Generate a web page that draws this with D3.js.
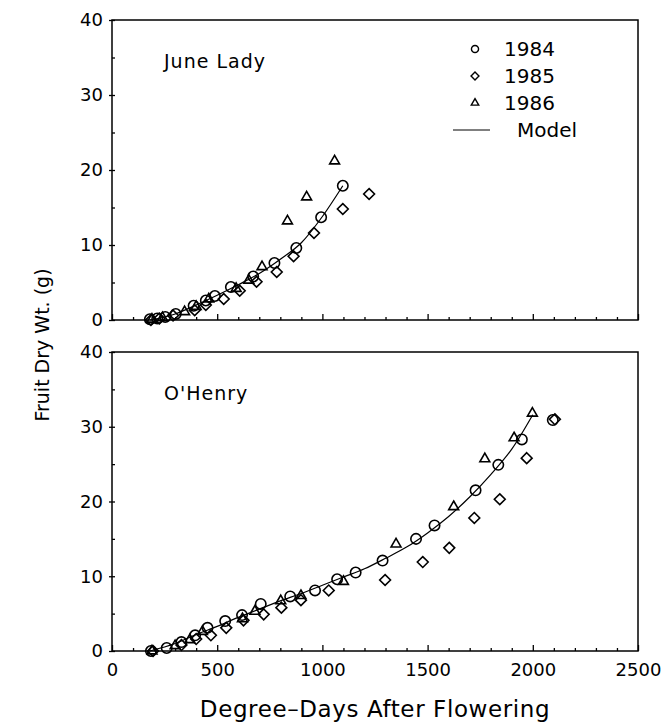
<!DOCTYPE html>
<html>
<head>
<meta charset="utf-8">
<script src="https://cdn.jsdelivr.net/npm/d3@7"></script>
<style>
  body { margin: 0; background: #fff; }
  text { font-family: "DejaVu Sans", sans-serif; fill: #000; }
</style>
</head>
<body>
<script>
// ticks
let xTicks = [0, 500, 1000, 1500, 2000, 2500];
let yTicks = [0, 10, 20, 30, 40];

// June Lady — [degree-days, dry wt g]
let jl1984 = [[180,0.1],[215,0.2],[253,0.4],[303,0.8],[388,1.9],[446,2.6],[489,3.2],[565,4.4],[671,5.8],[772,7.6],[876,9.6],[994,13.7],[1097,17.9]];
let jl1985 = [[185,0],[225,0.2],[290,0.6],[393,1.3],[446,2.0],[531,2.8],[607,3.9],[687,5.1],[783,6.4],[863,8.5],[960,11.6],[1097,14.8],[1222,16.8]];
let jl1986 = [[190,0.1],[240,0.3],[345,1.1],[400,1.8],[460,2.8],[590,4.2],[650,5.3],[713,7.1],[834,13.2],[925,16.4],[1058,21.2]];
let jlModel = [[180,0],[300,0.8],[400,2.0],[500,3.3],[600,4.7],[700,6.2],[800,8.1],[900,10.3],[1000,13.8],[1097,17.9]];

// O'Henry
let oh1984 = [[185,0],[260,0.4],[330,1.2],[395,2.1],[454,3.1],[538,4.0],[618,4.8],[707,6.3],[847,7.3],[965,8.1],[1070,9.6],[1158,10.5],[1286,12.1],[1445,15.0],[1533,16.8],[1728,21.5],[1836,24.9],[1948,28.3],[2095,30.9]];
let oh1985 = [[195,0],[330,0.8],[400,1.6],[470,2.1],[543,3.1],[625,4.1],[721,4.9],[805,5.8],[898,6.8],[1030,8.1],[1298,9.5],[1477,11.9],[1603,13.8],[1722,17.8],[1843,20.3],[1971,25.8],[2105,31.0]];
let oh1986 = [[190,0],[300,0.7],[370,1.5],[430,2.6],[620,4.3],[679,5.3],[802,6.7],[898,7.4],[1100,9.3],[1350,14.3],[1624,19.3],[1772,25.7],[1911,28.5],[1998,31.8]];
let ohModel = [[180,0],[300,1.0],[400,2.2],[500,3.3],[600,4.5],[700,5.6],[800,6.7],[900,7.7],[1000,8.8],[1100,9.9],[1200,11.0],[1300,12.4],[1400,13.9],[1500,15.8],[1600,18.0],[1700,20.6],[1800,23.6],[1900,27.0],[2000,31.6]];

let legendYears = ["1984", "1985", "1986"];

let width = 669, height = 722;
let left = 112, right = 638;

let svg = d3.select("body").append("svg")
    .attr("width", width)
    .attr("height", height);

let x = d3.scaleLinear().domain([0, 2500]).range([left, right]);

let symType = { "1984": d3.symbolCircle, "1985": d3.symbolDiamond2, "1986": d3.symbolTriangle2 };
let symSize = { "1984": 85, "1985": 75, "1986": 70 };

function panel(top, bottom, name, series, model, showXLabels) {
    let y = d3.scaleLinear().domain([0, 40]).range([bottom, top]);
    let g = svg.append("g");

    // frame
    g.append("rect")
        .attr("x", left).attr("y", top)
        .attr("width", right - left).attr("height", bottom - top)
        .attr("fill", "none").attr("stroke", "#000").attr("stroke-width", 1.5);

    // x axis, minor every 100 inward
    let xa = d3.axisBottom(x).tickValues(d3.range(0, 2501, 100))
        .tickSize(-4).tickFormat(d => showXLabels && xTicks.includes(d) ? d : "");
    let gx = g.append("g").attr("transform", "translate(0," + bottom + ")").call(xa);
    gx.select(".domain").remove();
    gx.selectAll(".tick line").attr("stroke-width", 1.3)
        .attr("y2", d => d % 500 == 0 ? -6 : -3);
    gx.selectAll("text").attr("font-size", 18).attr("dy", "1.2em");

    // y axis, tick every 5
    let ya = d3.axisLeft(y).tickValues(d3.range(0, 41, 5))
        .tickSize(-4).tickFormat(d => yTicks.includes(d) ? d : "");
    let gy = g.append("g").attr("transform", "translate(" + left + ",0)").call(ya);
    gy.select(".domain").remove();
    gy.selectAll(".tick line").attr("stroke-width", 1.3)
        .attr("x1", d => d % 10 == 0 ? -3 : 0)
        .attr("x2", 3);
    gy.selectAll("text").attr("font-size", 18).attr("x", -9);

    // model line
    let line = d3.line().x(d => x(d[0])).y(d => y(d[1])).curve(d3.curveMonotoneX);
    g.append("path").attr("d", line(model))
        .attr("fill", "none").attr("stroke", "#000").attr("stroke-width", 1.2);

    // points
    legendYears.forEach((yr, i) => {
        g.selectAll(".p" + yr).data(series[i]).enter().append("path")
            .attr("d", d3.symbol().type(symType[yr]).size(symSize[yr]))
            .attr("transform", d => "translate(" + x(d[0]) + "," + y(d[1]) + ")")
            .attr("fill", "none").attr("stroke", "#000").attr("stroke-width", 1.6);
    });

    g.append("text").attr("x", left + 52).attr("y", top + 48)
        .attr("font-size", 19).attr("letter-spacing", 1).text(name);
    return y;
}

panel(20, 320, "June Lady", [jl1984, jl1985, jl1986], jlModel, false);
panel(352, 651, "O'Henry", [oh1984, oh1985, oh1986], ohModel, true);

// legend
let lg = svg.append("g");
legendYears.forEach((yr, i) => {
    let ly = 49 + i * 27;
    lg.append("path").attr("d", d3.symbol().type(symType[yr]).size(40))
        .attr("transform", "translate(475," + ly + ")")
        .attr("fill", "none").attr("stroke", "#000").attr("stroke-width", 1.4);
    lg.append("text").attr("x", 504).attr("y", ly + 7).attr("font-size", 20).text(yr);
});
lg.append("line").attr("x1", 453).attr("x2", 490).attr("y1", 130).attr("y2", 130)
    .attr("stroke", "#000").attr("stroke-width", 1);
lg.append("text").attr("x", 517).attr("y", 137).attr("font-size", 20).text("Model");

// axis titles
svg.append("text").attr("x", (left + right) / 2).attr("y", 717)
    .attr("text-anchor", "middle").attr("font-size", 23).attr("letter-spacing", 0.6)
    .text("Degree\u2013Days After Flowering");
svg.append("text")
    .attr("transform", "translate(49,345) rotate(-90)")
    .attr("text-anchor", "middle").attr("font-size", 19)
    .text("Fruit Dry Wt. (g)");
</script>
</body>
</html>
